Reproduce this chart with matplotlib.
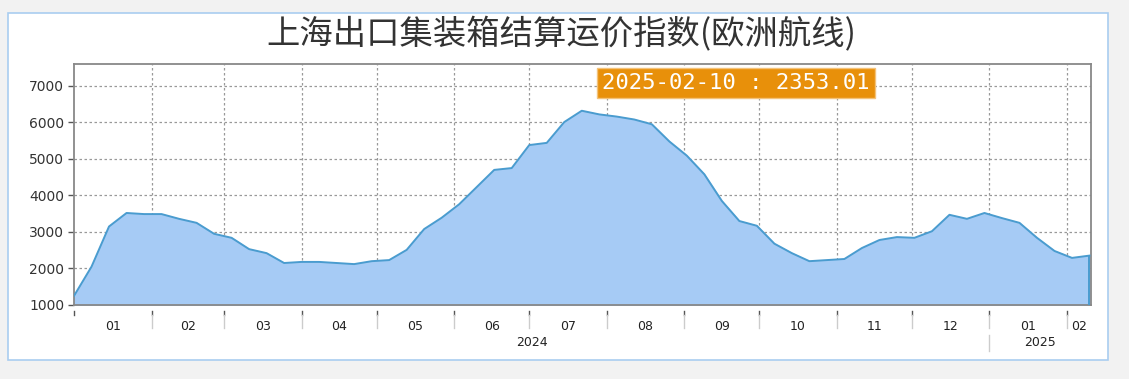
import pandas as pd
import matplotlib
matplotlib.use("Agg")
import matplotlib.pyplot as plt
import matplotlib.dates as mdates
import matplotlib.transforms as mtransforms
from matplotlib.patches import Rectangle

plt.rcParams['font.family'] = ['Noto Sans CJK SC', 'DejaVu Sans']

# 周度数据 (每周一)
dates = pd.date_range("2024-01-01", "2025-02-10", freq="7D")
values = [1250, 2050, 3150, 3520, 3490, 3490, 3360, 3250, 2950, 2840,
          2530, 2420, 2150, 2180, 2180, 2150, 2120, 2200, 2230, 2510,
          3080, 3390, 3760, 4230, 4700, 4750, 5380, 5440, 6010, 6320,
          6220, 6160, 6080, 5950, 5480, 5090, 4580, 3850, 3300, 3170,
          2680, 2420, 2200, 2230, 2260, 2560, 2780, 2860, 2840, 3020,
          3470, 3360, 3520, 3380, 3250, 2840, 2480, 2290, 2353.01]
month_starts = pd.date_range("2024-01-01", "2025-02-01", freq="MS")
month_labels = [d.strftime("%m") for d in month_starts]
years = ["2024", "2025"]
y_ticks = [1000, 2000, 3000, 4000, 5000, 6000, 7000]
title = "上海出口集装箱结算运价指数(欧洲航线)"
tip_text = "2025-02-10 : 2353.01"

W, H = 1129, 379
fig = plt.figure(figsize=(W / 100, H / 100), dpi=100)
fig.patch.set_facecolor("#f2f2f2")

# 白色面板
fig.patches.append(Rectangle((8 / W, 1 - 360 / H), 1100 / W, 347 / H,
                             transform=fig.transFigure, facecolor="white",
                             edgecolor="#a9cdf0", linewidth=1.2, zorder=-5))

ax = fig.add_axes([74 / W, 1 - 305 / H, 1017 / W, 241 / H])
ax.set_zorder(2)
ax.set_facecolor("white")

x = mdates.date2num(dates)
ax.fill_between(x, 1000, values, color="#a6cbf5", zorder=2)
ax.plot(x, values, color="#4a9ccf", linewidth=1.4, zorder=3)
ax.vlines(x[-1], 1000, values[-1], color="#4a9ccf", linewidth=1.4, zorder=3)

ax.set_xlim(x[0], x[-1] + 0.6)
ax.set_ylim(1000, 7600)

# 网格
for v in y_ticks[1:]:
    ax.axhline(v, color="#999999", linewidth=0.9, linestyle=(0, (2, 2)), zorder=1)
for d in month_starts[1:]:
    ax.axvline(mdates.date2num(d), color="#999999", linewidth=0.9,
               linestyle=(0, (2, 2)), zorder=1)

ax.set_yticks(y_ticks)
ax.set_yticklabels([str(v) for v in y_ticks], fontsize=10, color="#333333",
                   family="DejaVu Sans")
ax.tick_params(axis="y", length=4, width=1, color="#555555", pad=3)
ax.set_xticks([])

for s in ax.spines.values():
    s.set_color("#888888")
    s.set_linewidth(1.3)

# 月份标签
trans = mtransforms.blended_transform_factory(ax.transData, ax.transAxes)
xmin, xmax = ax.get_xlim()
edges = list(mdates.date2num(month_starts)) + [xmax]
for i, lab in enumerate(month_labels):
    a = max(edges[i], xmin)
    b = min(edges[i + 1], xmax)
    ax.text((a + b) / 2, -0.09, lab, transform=trans, ha="center", va="center",
            fontsize=9, color="#222222", family="DejaVu Sans")
    ax.plot([edges[i], edges[i]], [-0.025, -0.04], transform=trans,
            color="#555555", linewidth=1, clip_on=False)
    if i > 0:
        ax.plot([edges[i], edges[i]], [-0.04, -0.095], transform=trans,
                color="#cccccc", linewidth=1, clip_on=False)

# 年份标签
y_sep = mdates.date2num(pd.Timestamp("2025-01-01"))
ax.text((xmin + y_sep) / 2, -0.155, years[0], transform=trans, ha="center",
        va="center", fontsize=9, color="#222222", family="DejaVu Sans")
ax.text((y_sep + xmax) / 2, -0.155, years[1], transform=trans, ha="center",
        va="center", fontsize=9, color="#222222", family="DejaVu Sans")
ax.plot([y_sep, y_sep], [-0.125, -0.19], transform=trans, color="#cccccc",
        linewidth=1, clip_on=False)

# 标题
fig.text(0.497, 1 - 35 / H, title, ha="center", va="center", fontsize=24,
         fontweight=500, color="#333333")

# 提示框
fig.text(736 / W, 1 - 83 / H, tip_text, ha="center", va="center", fontsize=16,
         color="white", family="DejaVu Sans Mono", zorder=5,
         bbox=dict(boxstyle="square,pad=0.22", facecolor="#e8900a",
                   edgecolor="#f3c27a", linewidth=1))

fig.savefig("out.png", dpi=100, facecolor=fig.get_facecolor())
